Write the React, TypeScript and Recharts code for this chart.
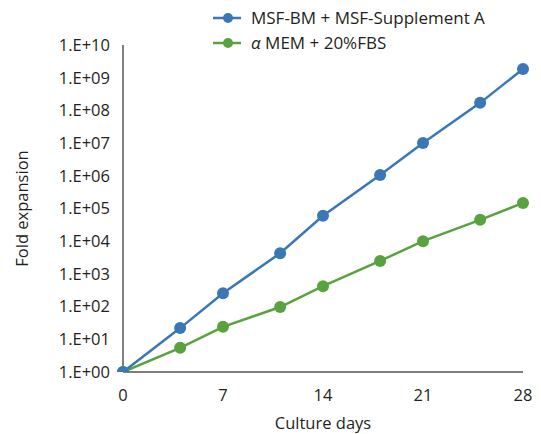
import { LineChart, Line, XAxis, YAxis, Legend, Label } from 'recharts'

const days = [0, 4, 7, 11, 14, 18, 21, 25, 28]
const msfSeries = [1, 22, 255, 4300, 60000, 1050000, 10000000, 170000000, 1850000000]
const memSeries = [1, 5.5, 24, 97, 420, 2500, 10000, 45000, 148000]
const xTicks = [0, 7, 14, 21, 28]
const yTicks = [1, 10, 1e2, 1e3, 1e4, 1e5, 1e6, 1e7, 1e8, 1e9, 1e10]

const BLUE = '#3a77b5'
const GREEN = '#58a23f'
const TEXT = '#231f20'
const FONT = '"Open Sans", sans-serif'

const data = days.map((d, i) => ({ day: d, msf: msfSeries[i], mem: memSeries[i] }))

const fmtExp = (v: number) => {
  const e = Math.round(Math.log10(v))
  return `1.E+${e < 10 ? '0' + e : e}`
}

function LegendBox() {
  const items = [
    { color: BLUE, text: <>MSF-BM + MSF-Supplement A</> },
    { color: GREEN, text: <><tspan fontStyle="italic">α</tspan> MEM + 20%FBS</> },
  ]
  return (
    <svg width={340} height={60} style={{ position: 'absolute', left: 200, top: 0 }}>
      {items.map((it, i) => {
        const y = 18 + i * 25
        return (
          <g key={i}>
            <line x1={13} x2={41} y1={y} y2={y} stroke={it.color} strokeWidth={2.5} />
            <circle cx={28} cy={y} r={5} fill={it.color} />
            <text x={51} y={y + 6} fontSize={17} fill={TEXT} fontFamily={FONT}>{it.text}</text>
          </g>
        )
      })}
    </svg>
  )
}

export default function App() {
  return (
    <div style={{ position: 'absolute', left: 0, top: 0, width: 541, height: 434, background: '#fff' }}>
      <LineChart
        width={541}
        height={434}
        data={data}
        margin={{ top: 45, right: 18, bottom: 12, left: 13 }}
      >
        <XAxis
          dataKey="day"
          type="number"
          domain={[0, 28]}
          ticks={xTicks}
          tickLine={false}
          tickSize={0}
          tickMargin={17}
          height={50}
          axisLine={{ stroke: '#555', strokeWidth: 1.5 }}
          tick={{ fill: TEXT, fontSize: 16.5, fontFamily: FONT }}
        >
          <Label
            content={({ viewBox }: any) => (
              <text
                x={viewBox.x + viewBox.width / 2}
                y={429}
                textAnchor="middle"
                fontSize={16.5}
                fill={TEXT}
                fontFamily={FONT}
              >
                Culture days
              </text>
            )}
          />
        </XAxis>
        <YAxis
          scale="log"
          domain={[1, 1e10]}
          ticks={yTicks}
          allowDataOverflow
          tickFormatter={fmtExp}
          tickLine={false}
          tickSize={0}
          tickMargin={13}
          width={110}
          axisLine={{ stroke: '#555', strokeWidth: 1.5 }}
          tick={{ fill: TEXT, fontSize: 16.5, fontFamily: FONT }}
        >
          <Label
            content={({ viewBox }: any) => {
              const cy = viewBox.y + viewBox.height / 2
              return (
                <text
                  x={28}
                  y={cy}
                  transform={`rotate(-90, 28, ${cy})`}
                  textAnchor="middle"
                  fontSize={16.5}
                  fill={TEXT}
                  fontFamily={FONT}
                >
                  Fold expansion
                </text>
              )
            }}
          />
        </YAxis>
        <Line
          dataKey="mem"
          stroke={GREEN}
          strokeWidth={2.5}
          dot={{ r: 6, fill: GREEN, stroke: 'none' }}
          isAnimationActive={false}
        />
        <Line
          dataKey="msf"
          stroke={BLUE}
          strokeWidth={2.5}
          dot={{ r: 6, fill: BLUE, stroke: 'none' }}
          isAnimationActive={false}
        />
        <Legend content={() => null} />
      </LineChart>
      <LegendBox />
    </div>
  )
}
